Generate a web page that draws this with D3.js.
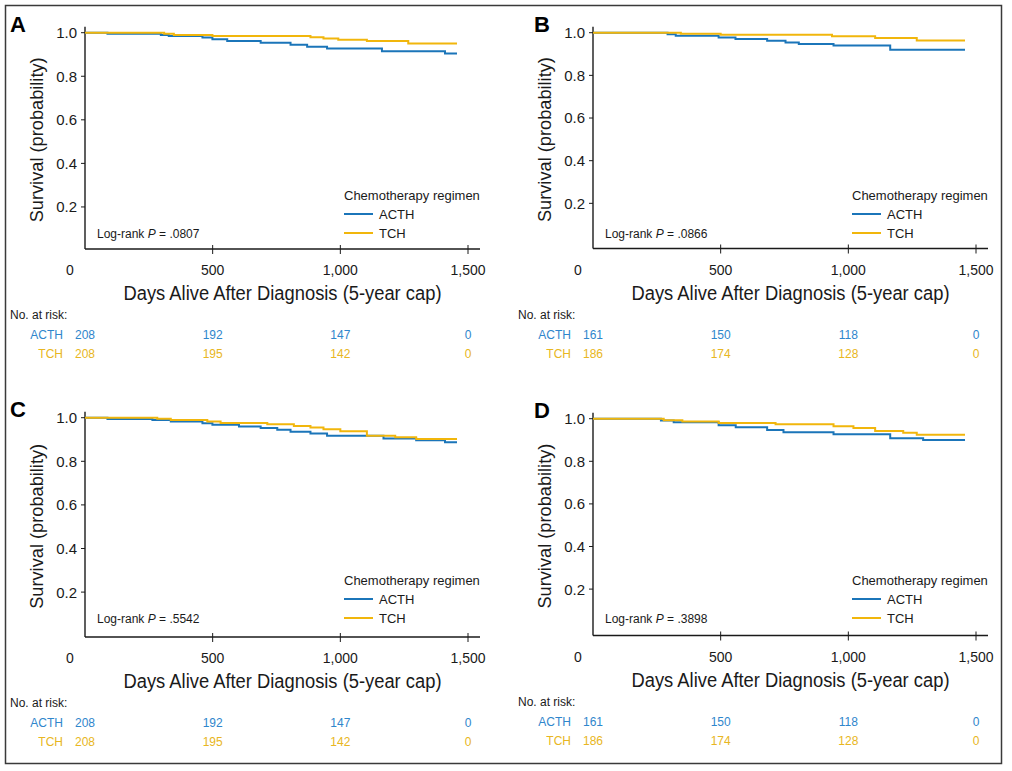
<!DOCTYPE html>
<html lang="en">
<head>
<meta charset="UTF-8">
<title>Survival by Chemotherapy Regimen</title>
<script src="https://d3js.org/d3.v7.min.js"></script>
<style>
  body { margin: 0; background: #fff; }
  svg { display: block; font-family: "Liberation Sans", Arial, sans-serif; }
</style>
</head>
<body>
<svg width="1012" height="771"></svg>
<script>
// ---- data ----
const panelLabels = ["A", "B", "C", "D"];
const pValues = [".0807", ".0866", ".5542", ".3898"];
const groups = ["ACTH", "TCH"];
const xTicks = [0, 500, 1000, 1500];
const xTickLabels = ["0", "500", "1,000", "1,500"];
const yTicks = [0.2, 0.4, 0.6, 0.8, 1.0];
const lastDay = 1457;

// [day, survival] at each step
const acthA = [[0, 1], [88, 0.995], [297, 0.99], [328, 0.985], [460, 0.978], [499, 0.97], [557, 0.962],
  [688, 0.954], [805, 0.945], [870, 0.936], [948, 0.927], [1163, 0.915], [1410, 0.905]];
const tchA = [[0, 1], [310, 0.995], [348, 0.99], [499, 0.985], [883, 0.979], [934, 0.973], [992, 0.968],
  [1104, 0.962], [1266, 0.95]];
const acthB = [[0, 1], [292, 0.993], [324, 0.986], [492, 0.977], [558, 0.97], [682, 0.962], [754, 0.954],
  [806, 0.947], [942, 0.94], [1164, 0.92]];
const tchB = [[0, 1], [344, 0.995], [500, 0.99], [936, 0.983], [1105, 0.975], [1268, 0.964]];
const acthC = [[0, 1], [88, 0.994], [264, 0.99], [336, 0.983], [460, 0.975], [499, 0.968], [603, 0.96],
  [688, 0.953], [753, 0.945], [805, 0.936], [883, 0.927], [948, 0.917], [1169, 0.905], [1297, 0.896], [1410, 0.887]];
const tchC = [[0, 1], [283, 0.995], [336, 0.99], [479, 0.983], [531, 0.976], [714, 0.97], [818, 0.962],
  [883, 0.955], [934, 0.947], [1000, 0.938], [1104, 0.917], [1215, 0.91], [1297, 0.902]];
const acthD = [[0, 1], [266, 0.992], [316, 0.983], [492, 0.969], [559, 0.96], [682, 0.947], [746, 0.936],
  [942, 0.927], [1164, 0.908], [1293, 0.9]];
const tchD = [[0, 1], [277, 0.993], [350, 0.987], [492, 0.98], [715, 0.974], [942, 0.964], [1020, 0.956],
  [1105, 0.942], [1215, 0.934], [1268, 0.925]];

const acthCurves = [acthA, acthB, acthC, acthD];
const tchCurves = [tchA, tchB, tchC, tchD];

const riskTimes = [0, 500, 1000, 1500];
const acthRisk = [[208, 192, 147, 0], [161, 150, 118, 0], [208, 192, 147, 0], [161, 150, 118, 0]];
const tchRisk = [[208, 195, 142, 0], [186, 174, 128, 0], [208, 195, 142, 0], [186, 174, 128, 0]];

// ---- layout ----
const lineColor = { ACTH: "#1b75b9", TCH: "#f1b60c" };
const textColor = { ACTH: "#2f86cc", TCH: "#e8b622" };
const ink = "#1a1a1a";

const layout = [
  { x0: 85, x1: 468, yTop: 32.7, yBot: 250.5, axisY: 249, letterX: 10, legendY: 200 },
  { x0: 593, x1: 976, yTop: 32.7, yBot: 246, axisY: 248.5, letterX: 534, legendY: 200 },
  { x0: 85, x1: 468, yTop: 417.7, yBot: 635.7, axisY: 637, letterX: 10, legendY: 585 },
  { x0: 593, x1: 976, yTop: 418.7, yBot: 631.7, axisY: 635.5, letterX: 534, legendY: 585 }
];

const svg = d3.select("svg");

svg.append("rect")
  .attr("x", 5.5).attr("y", 5.5)
  .attr("width", 996).attr("height", 758)
  .attr("fill", "none")
  .attr("stroke", "#3a3a3a")
  .attr("stroke-width", 1.5);

function drawPanel(i) {
  const L = layout[i];
  const g = svg.append("g");
  const x = d3.scaleLinear().domain([0, 1500]).range([L.x0, L.x1]);
  const y = d3.scaleLinear().domain([0, 1]).range([L.yBot, L.yTop]);
  const axisEnd = x(1500) + 12;

  // axes lines
  g.append("line")
    .attr("x1", x(0)).attr("x2", x(0))
    .attr("y1", L.yTop - 6).attr("y2", L.axisY)
    .attr("stroke", ink).attr("stroke-width", 1.4);
  g.append("line")
    .attr("x1", x(0)).attr("x2", axisEnd)
    .attr("y1", L.axisY).attr("y2", L.axisY)
    .attr("stroke", ink).attr("stroke-width", 1.4);

  // y ticks
  g.selectAll("line.ytick")
    .data(yTicks)
    .join("line")
    .attr("class", "ytick")
    .attr("x1", x(0) - 4).attr("x2", x(0))
    .attr("y1", d => y(d)).attr("y2", d => y(d))
    .attr("stroke", ink).attr("stroke-width", 1);
  g.selectAll("text.ytick")
    .data(yTicks)
    .join("text")
    .attr("class", "ytick")
    .attr("x", x(0) - 8)
    .attr("y", d => y(d))
    .attr("dy", "0.36em")
    .attr("text-anchor", "end")
    .attr("font-size", 15)
    .attr("fill", ink)
    .text(d => d.toFixed(1));

  // x ticks
  g.selectAll("line.xtick")
    .data(xTicks.slice(1))
    .join("line")
    .attr("class", "xtick")
    .attr("x1", d => x(d)).attr("x2", d => x(d))
    .attr("y1", L.axisY - 4).attr("y2", L.axisY + 5)
    .attr("stroke", ink).attr("stroke-width", 1);
  g.selectAll("text.xtick")
    .data(xTicks)
    .join("text")
    .attr("class", "xtick")
    .attr("x", (d, j) => x(d) - (j === 0 ? 15 : 0))
    .attr("y", L.axisY + 26)
    .attr("text-anchor", "middle")
    .attr("font-size", 14)
    .attr("fill", ink)
    .text((d, j) => xTickLabels[j]);

  // axis titles
  g.append("text")
    .attr("x", (x(0) + axisEnd) / 2)
    .attr("y", L.axisY + 51)
    .attr("text-anchor", "middle")
    .attr("font-size", 20)
    .attr("textLength", 318)
    .attr("lengthAdjust", "spacingAndGlyphs")
    .attr("fill", ink)
    .text("Days Alive After Diagnosis (5-year cap)");

  g.append("text")
    .attr("transform", `translate(${x(0) - 42},${(L.yTop + L.axisY) / 2 - 1}) rotate(-90)`)
    .attr("text-anchor", "middle")
    .attr("font-size", 19)
    .attr("textLength", 165)
    .attr("lengthAdjust", "spacingAndGlyphs")
    .attr("fill", ink)
    .text("Survival (probability)");

  // panel letter
  g.append("text")
    .attr("x", L.letterX)
    .attr("y", L.yTop - 1)
    .attr("font-size", 22)
    .attr("font-weight", "bold")
    .attr("fill", "#000")
    .text(panelLabels[i]);

  // survival curves
  const line = d3.line()
    .x(d => x(d[0]))
    .y(d => y(d[1]))
    .curve(d3.curveStepAfter);

  const series = [
    { name: "ACTH", pts: acthCurves[i] },
    { name: "TCH", pts: tchCurves[i] }
  ];
  // draw ACTH under TCH like the original
  series.forEach(s => {
    const pts = s.pts.concat([[lastDay, s.pts[s.pts.length - 1][1]]]);
    g.append("path")
      .datum(pts)
      .attr("d", line)
      .attr("fill", "none")
      .attr("stroke", lineColor[s.name])
      .attr("stroke-width", 2);
  });

  // legend
  const lx = x(0) + 259;
  g.append("text")
    .attr("x", lx)
    .attr("y", L.legendY)
    .attr("font-size", 13)
    .attr("fill", ink)
    .text("Chemotherapy regimen");
  groups.forEach((name, k) => {
    const ly = L.legendY + 14 + k * 19;
    g.append("line")
      .attr("x1", lx).attr("x2", lx + 29)
      .attr("y1", ly).attr("y2", ly)
      .attr("stroke", lineColor[name])
      .attr("stroke-width", 2);
    g.append("text")
      .attr("x", lx + 35)
      .attr("y", ly + 4.5)
      .attr("font-size", 13)
      .attr("fill", ink)
      .text(name);
  });

  // log-rank p
  const lr = g.append("text")
    .attr("x", x(0) + 12)
    .attr("y", L.legendY + 37.5)
    .attr("font-size", 12)
    .attr("fill", ink);
  lr.append("tspan").text("Log-rank ");
  lr.append("tspan").attr("font-style", "italic").text("P");
  lr.append("tspan").text(" = " + pValues[i]);

  // numbers at risk
  g.append("text")
    .attr("x", x(0) - 75)
    .attr("y", L.axisY + 70)
    .attr("font-size", 12)
    .attr("fill", ink)
    .text("No. at risk:");

  const riskRows = [acthRisk[i], tchRisk[i]];
  groups.forEach((name, k) => {
    const ry = L.axisY + 90 + k * 19;
    g.append("text")
      .attr("x", x(0) - 22)
      .attr("y", ry)
      .attr("text-anchor", "end")
      .attr("font-size", 12)
      .attr("fill", textColor[name])
      .text(name);
    g.selectAll(null)
      .data(riskRows[k])
      .join("text")
      .attr("x", (d, j) => x(riskTimes[j]))
      .attr("y", ry)
      .attr("text-anchor", "middle")
      .attr("font-size", 12)
      .attr("fill", textColor[name])
      .text(d => d);
  });
}

layout.forEach((_, i) => drawPanel(i));
</script>
</body>
</html>
